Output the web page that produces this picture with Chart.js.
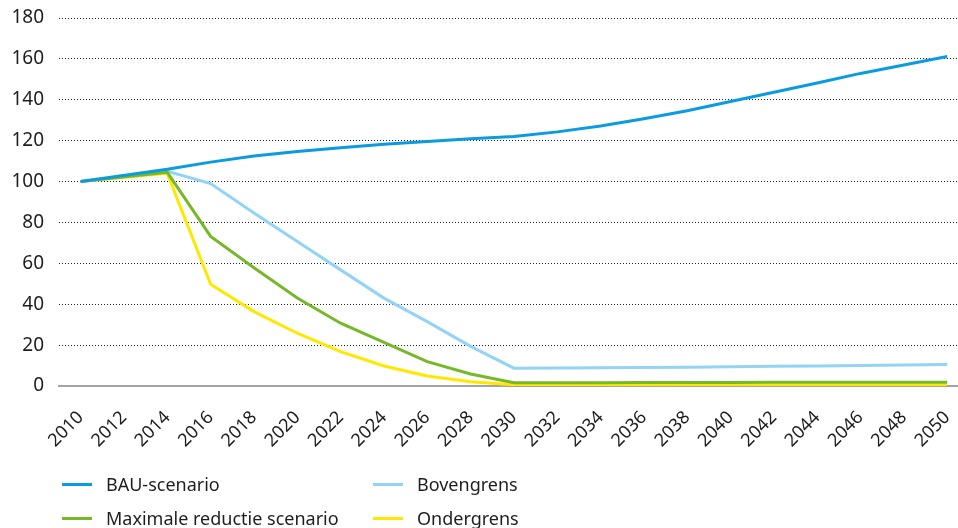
<!DOCTYPE html>
<html lang="nl">
<head>
<meta charset="utf-8">
<script src="https://cdn.jsdelivr.net/npm/chart.js@4.4.1/dist/chart.umd.min.js"></script>
<style>
  html, body { margin: 0; padding: 0; background: #ffffff; }
  body { width: 958px; height: 528px; overflow: hidden; position: relative; font-family: "Noto Sans", sans-serif; }
  #wrap { position: absolute; left: 0; top: 0; width: 958px; height: 455px; }
  #legend { position: absolute; left: 0; top: 0; width: 958px; height: 528px; pointer-events: none; }
  .item { position: absolute; height: 30px; display: flex; align-items: center; font-size: 18px; color: #1e1e1e; white-space: nowrap; }
  .swatch { width: 30px; height: 3px; margin-right: 14px; }
</style>
</head>
<body>
<div id="wrap"><canvas id="chart"></canvas></div>
<div id="legend"></div>
<script>
// Years at which the scenarios are given
const years = [2010, 2014, 2016, 2018, 2020, 2022, 2024, 2026, 2028, 2030,
               2032, 2034, 2036, 2038, 2040, 2042, 2044, 2046, 2048, 2050];

// Index (2010 = 100)
const bauScenario = [100, 106, 109.5, 112.5, 114.7, 116.5, 118.3, 119.6, 120.9, 122,
                     124.3, 127.2, 130.7, 134.6, 139.2, 143.7, 148.2, 152.9, 157, 161.2];
const bovengrens = [100, 105, 99, 84.6, 70.7, 56.8, 43, 31.5, 19.4, 8.7,
                    8.8, 8.9, 9.0, 9.2, 9.4, 9.6, 9.8, 10.0, 10.3, 10.5];
const maxReductie = [100, 104.5, 73.2, 57.8, 43, 30.7, 21.3, 11.9, 5.9, 1.6,
                     1.6, 1.6, 1.7, 1.7, 1.7, 1.8, 1.8, 1.8, 1.8, 1.8];
const ondergrens = [100, 104, 49.8, 36.4, 25.8, 16.8, 9.8, 4.9, 2.1, 0.6,
                    0.5, 0.5, 0.5, 0.5, 0.5, 0.5, 0.5, 0.5, 0.5, 0.5];

// Axis ticks
const xTicks = [2010, 2012, 2014, 2016, 2018, 2020, 2022, 2024, 2026, 2028, 2030,
                2032, 2034, 2036, 2038, 2040, 2042, 2044, 2046, 2048, 2050];
const yTicks = [0, 20, 40, 60, 80, 100, 120, 140, 160, 180];

const seriesNames = ["BAU-scenario", "Bovengrens", "Maximale reductie scenario", "Ondergrens"];
const seriesColors = ["#0a9be0", "#93d3f5", "#76b82a", "#ffe800"];
const seriesValues = [bauScenario, bovengrens, maxReductie, ondergrens];
const drawOrder = [0, 2, 1, 3];

const toPoints = vals => vals.map((v, i) => ({ x: years[i], y: v }));

const TEXT = "#1e1e1e";

const chart = new Chart(document.getElementById("chart"), {
  type: "line",
  data: {
    datasets: seriesNames.map((name, i) => ({
      label: name,
      data: toPoints(seriesValues[i]),
      borderColor: seriesColors[i],
      backgroundColor: seriesColors[i],
      borderWidth: 3,
      pointRadius: 0,
      tension: 0,
      order: drawOrder[i]
    }))
  },
  options: {
    responsive: true,
    maintainAspectRatio: false,
    animation: false,
    layout: { padding: { top: 18, right: 0, left: 0, bottom: 0 } },
    plugins: { legend: { display: false }, tooltip: { enabled: false } },
    scales: {
      x: {
        type: "linear",
        min: 2009,
        max: 2050.5,
        afterBuildTicks: s => { s.ticks = xTicks.map(v => ({ value: v })); },
        afterFit: s => {
          s.height = 69;
          s.paddingLeft = 0; s.paddingRight = 0;
        },
        grid: { display: false, drawTicks: false },
        border: { display: true, color: "#a3a3a3", width: 2 },
        ticks: {
          autoSkip: false,
          minRotation: 45,
          maxRotation: 45,
          padding: 21,
          color: TEXT,
          font: { family: "'Noto Sans', sans-serif", size: 18 },
          callback: v => String(v)
        }
      },
      y: {
        min: 0,
        max: 180,
        afterBuildTicks: s => { s.ticks = yTicks.map(v => ({ value: v })); },
        afterFit: s => {
          s.width = 59;
          s.paddingTop = 0; s.paddingBottom = 0;
        },
        grid: {
          drawTicks: false,
          lineWidth: 1,
          color: c => (c.tick && c.tick.value === 0) ? "rgba(0,0,0,0)" : "#222222"
        },
        border: { display: false, dash: [1, 2] },
        ticks: { padding: 15, color: TEXT, font: { family: "'Noto Sans', sans-serif", size: 19 } }
      }
    }
  }
});

// Legend in two columns, built from the chart's datasets
const legendSpots = [
  { left: 62, top: 469 },   // BAU-scenario
  { left: 373, top: 469 },  // Bovengrens
  { left: 62, top: 503 },   // Maximale reductie scenario
  { left: 373, top: 503 }   // Ondergrens
];
const legendEl = document.getElementById("legend");
chart.data.datasets.forEach((ds, i) => {
  const item = document.createElement("div");
  item.className = "item";
  item.style.left = legendSpots[i].left + "px";
  item.style.top = legendSpots[i].top + "px";
  const sw = document.createElement("span");
  sw.className = "swatch";
  sw.style.background = ds.borderColor;
  const tx = document.createElement("span");
  tx.textContent = ds.label;
  item.appendChild(sw);
  item.appendChild(tx);
  legendEl.appendChild(item);
});
</script>
</body>
</html>
